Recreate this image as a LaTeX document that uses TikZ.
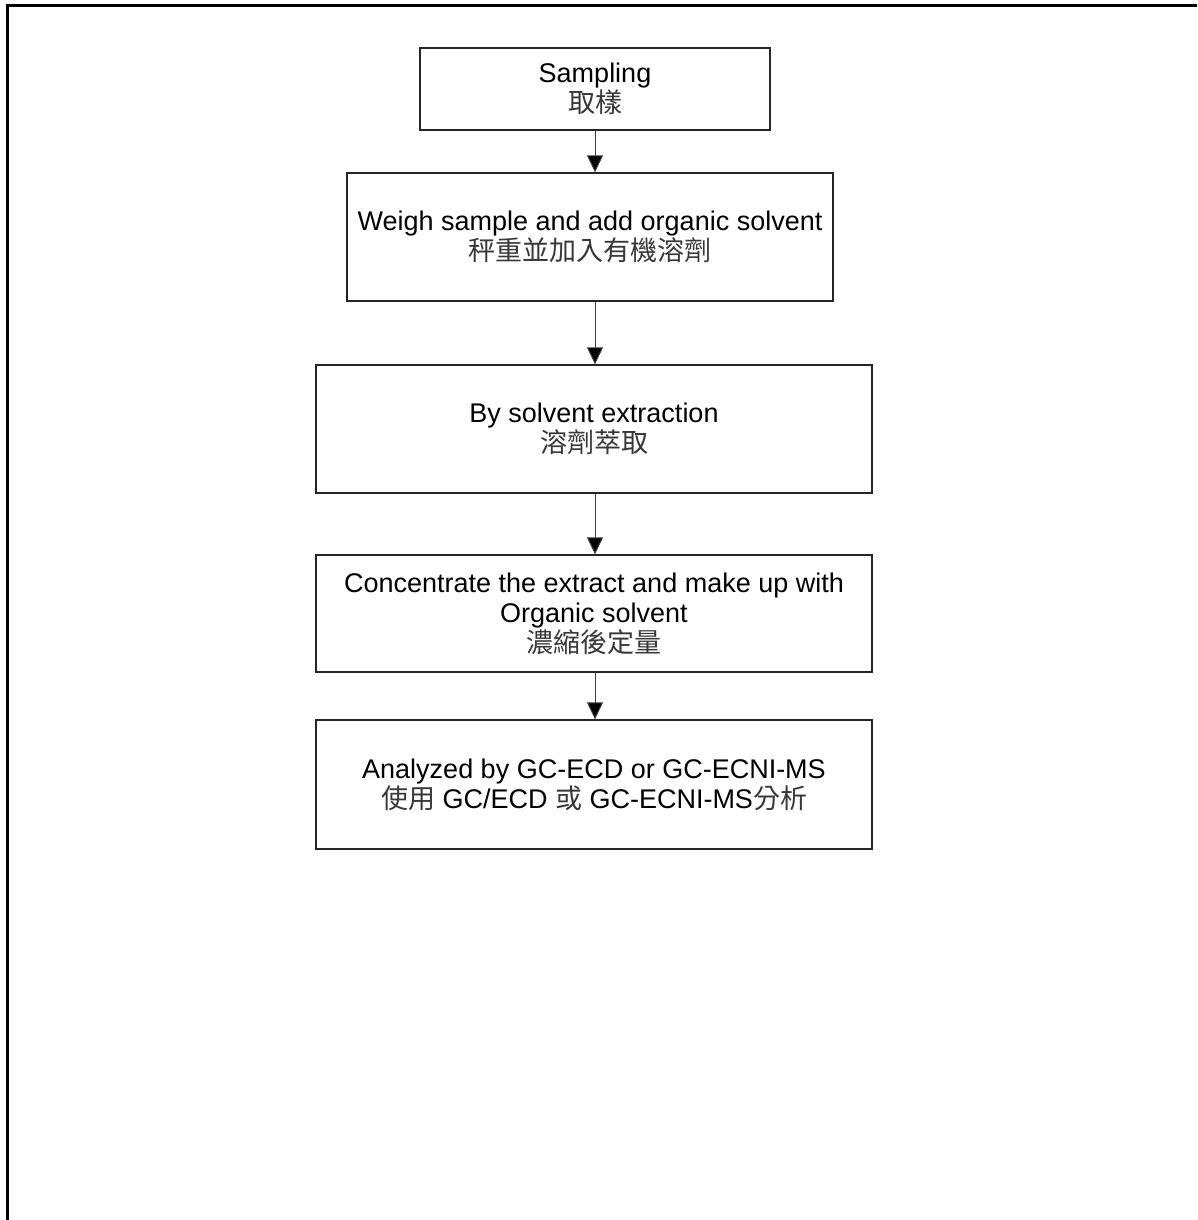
\documentclass[tikz,border=0pt]{standalone}
\usepackage{fontspec}
\setmainfont{Liberation Sans}
\newfontfamily\cjkfont{Noto Sans CJK TC}
\newcommand{\cjk}{\cjkfont\color{black!78}}
\usetikzlibrary{arrows.meta}
\tikzset{
  stepbox/.style={draw=black!85, line width=1.3pt, rectangle, align=center, inner sep=0pt,
    font=\fontsize{27}{30}\selectfont},
  flowarrow/.style={draw=black!75, line width=1pt, -{Triangle[length=17pt,width=16pt,fill=black]}},
  frameline/.style={line width=3pt, black}
}
\begin{document}
\begin{tikzpicture}[x=1pt,y=-1pt]
\useasboundingbox (0,0) rectangle (1197,1220);
\fill[white] (0,0) rectangle (1197,1220);
\draw[frameline] (7,1220) -- (7,6) -- (1197,6);

\node[stepbox, minimum width=350pt, minimum height=82pt] (b1) at (595,89)
  {Sampling\\{\cjk 取樣}};
\node[stepbox, minimum width=486pt, minimum height=128pt] (b2) at (590,237)
  {Weigh sample and add organic solvent\\{\cjk 秤重並加入有機溶劑}};
\node[stepbox, minimum width=556pt, minimum height=128pt] (b3) at (594,429)
  {By solvent extraction\\{\cjk 溶劑萃取}};
\node[stepbox, minimum width=556pt, minimum height=117pt] (b4) at (594,613.5)
  {Concentrate the extract and make up with\\Organic solvent\\{\cjk 濃縮後定量}};
\node[stepbox, minimum width=556pt, minimum height=129pt] (b5) at (594,784.5)
  {Analyzed by GC-ECD or GC-ECNI-MS\\{\cjk 使用} GC/ECD {\cjk 或} GC-ECNI-MS{\cjk 分析}};

\draw[flowarrow] (b1.south) -- (b1.south |- b2.north);
\draw[flowarrow] (b1.south |- b2.south) -- (b1.south |- b3.north);
\draw[flowarrow] (b1.south |- b3.south) -- (b1.south |- b4.north);
\draw[flowarrow] (b1.south |- b4.south) -- (b1.south |- b5.north);
\end{tikzpicture}
\end{document}
